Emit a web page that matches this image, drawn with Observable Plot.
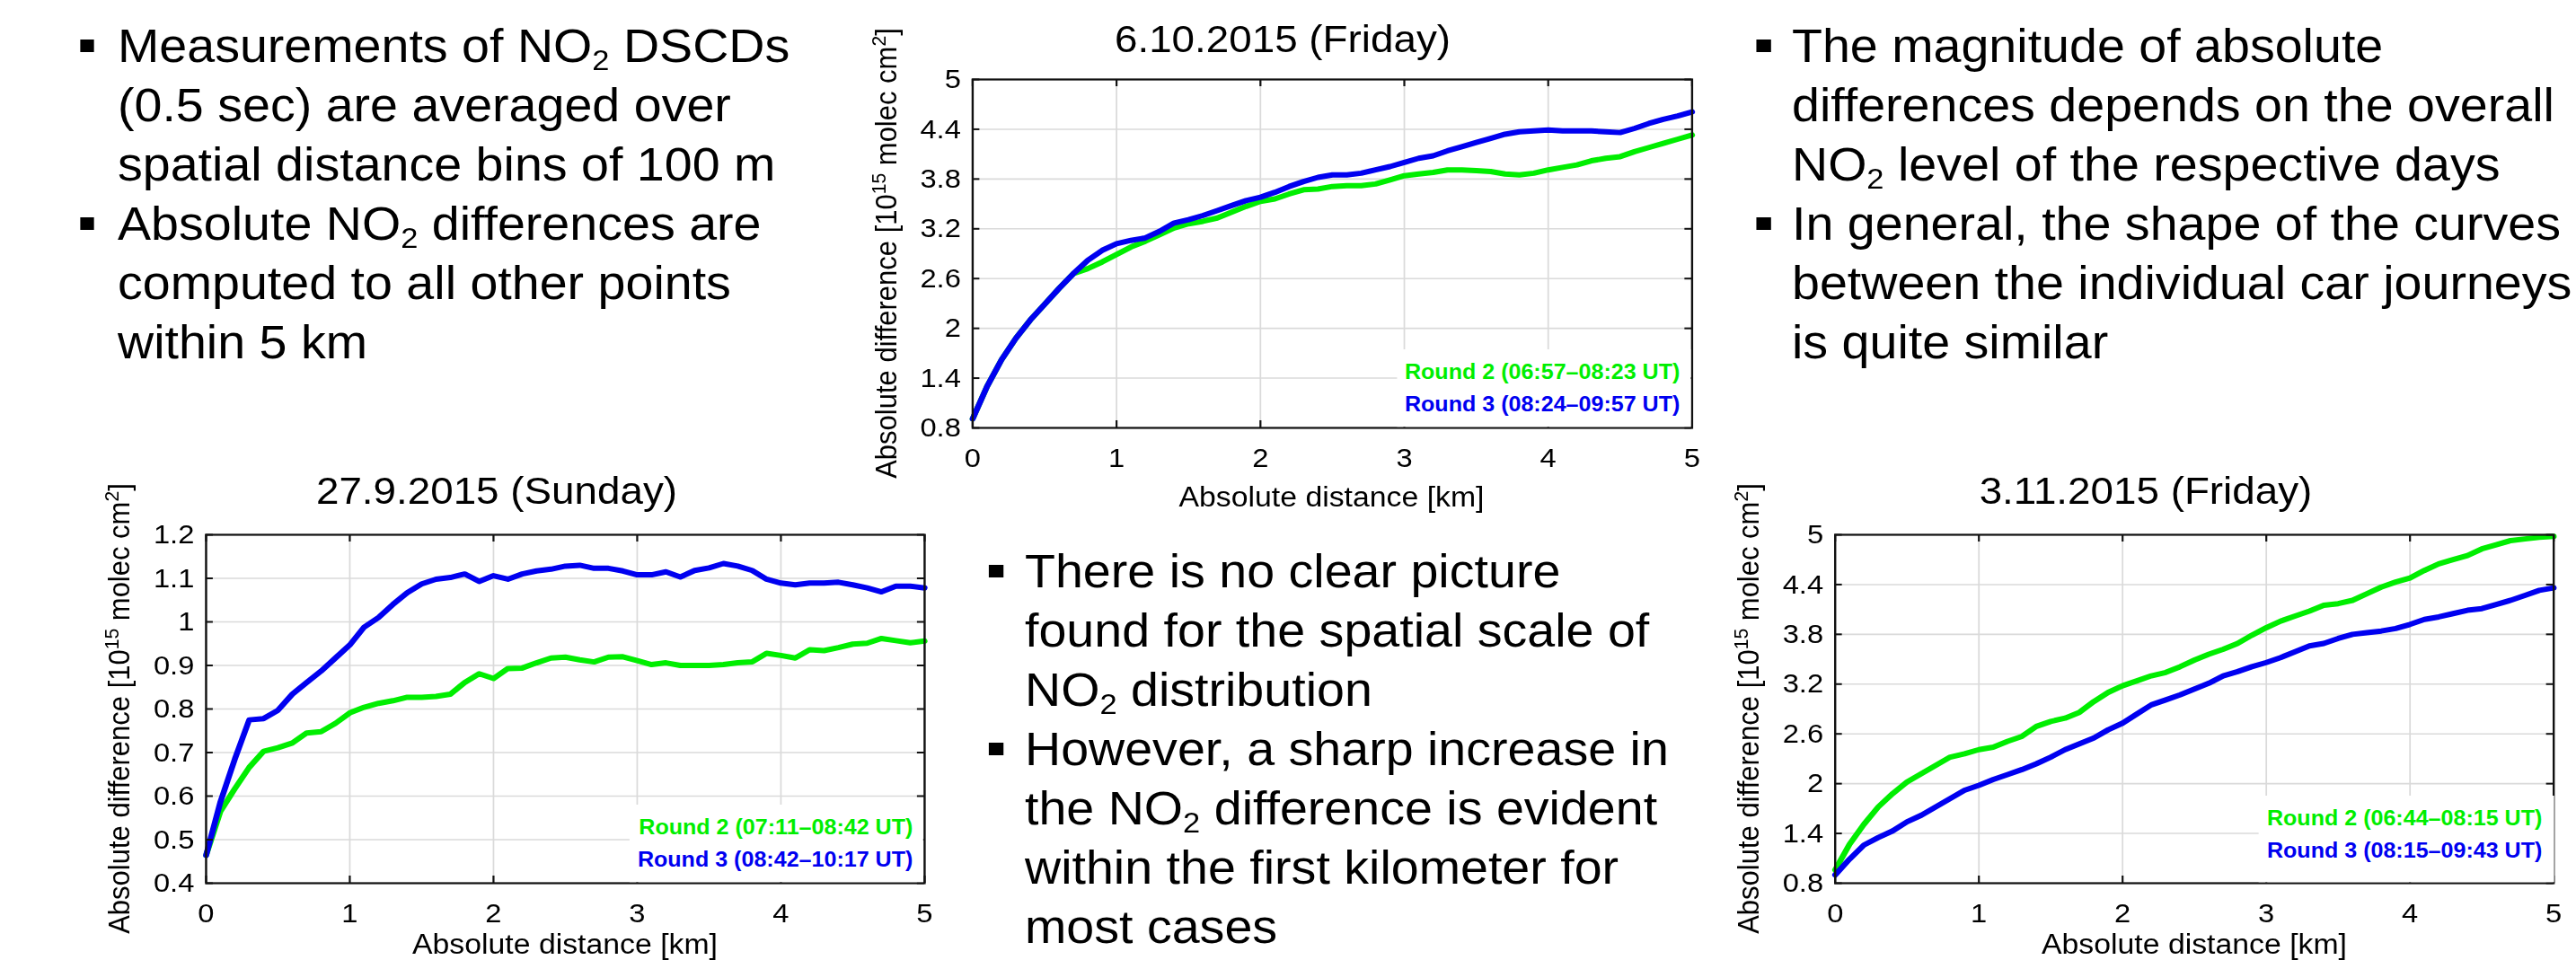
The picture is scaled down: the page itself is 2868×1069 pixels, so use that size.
<!DOCTYPE html>
<html><head><meta charset="utf-8">
<script src="https://cdn.jsdelivr.net/npm/d3@7"></script>
<script src="https://cdn.jsdelivr.net/npm/@observablehq/plot@0.6"></script>
<style>
html,body{margin:0;padding:0;background:#fff;overflow:hidden;width:2868px;height:1069px;}
#page{position:relative;width:2632px;height:1069px;transform:scaleX(1.09);transform-origin:0 0;font-family:"Liberation Sans",Arial,Helvetica,sans-serif;color:#000;}
.t{position:absolute;white-space:nowrap;}
sub{font-size:0.62em;line-height:0;vertical-align:baseline;position:relative;top:0.28em;}
sup{font-size:0.68em;line-height:0;vertical-align:baseline;position:relative;top:-0.52em;}
.bullet{position:absolute;background:#000;}
.legend{position:absolute;background:#fff;white-space:nowrap;text-align:right;font-weight:bold;}
</style></head><body><div id="page"></div><script>
// ---------------- data ----------------
const distanceKm = [0,0.1,0.2,0.3,0.4,0.5,0.6,0.7,0.8,0.9,1,1.1,1.2,1.3,1.4,1.5,1.6,1.7,1.8,1.9,2,2.1,2.2,2.3,2.4,2.5,2.6,2.7,2.8,2.9,3,3.1,3.2,3.3,3.4,3.5,3.6,3.7,3.8,3.9,4,4.1,4.2,4.3,4.4,4.5,4.6,4.7,4.8,4.9,5];

const oct6Round2 = [0.91,1.30,1.62,1.88,2.10,2.29,2.48,2.66,2.72,2.80,
  2.89,2.98,3.05,3.13,3.21,3.26,3.29,3.33,3.40,3.47,
  3.53,3.56,3.62,3.67,3.68,3.71,3.72,3.72,3.74,3.79,
  3.84,3.86,3.88,3.91,3.91,3.90,3.89,3.86,3.85,3.87,
  3.91,3.94,3.97,4.02,4.05,4.07,4.13,4.18,4.23,4.28,4.33];
const oct6Round3 = [0.91,1.30,1.62,1.88,2.10,2.29,2.48,2.66,2.82,2.94,
  3.02,3.06,3.09,3.17,3.27,3.31,3.36,3.42,3.48,3.54,
  3.58,3.64,3.71,3.77,3.82,3.85,3.85,3.87,3.91,3.95,
  4.00,4.05,4.08,4.14,4.19,4.24,4.29,4.34,4.37,4.38,
  4.39,4.38,4.38,4.38,4.37,4.36,4.41,4.47,4.52,4.56,4.61];

const sep27Round2 = [0.464,0.565,0.617,0.666,0.703,0.711,0.722,0.745,0.748,0.767,
  0.791,0.804,0.813,0.819,0.827,0.827,0.829,0.834,0.861,0.881,
  0.870,0.893,0.894,0.906,0.917,0.919,0.913,0.908,0.919,0.920,
  0.911,0.902,0.906,0.900,0.900,0.900,0.902,0.906,0.908,0.928,
  0.923,0.917,0.936,0.934,0.941,0.949,0.951,0.962,0.957,0.952,0.956];
const sep27Round3 = [0.464,0.587,0.685,0.775,0.778,0.797,0.834,0.861,0.887,0.917,
  0.947,0.988,1.010,1.040,1.067,1.087,1.098,1.102,1.110,1.093,
  1.106,1.098,1.110,1.117,1.121,1.128,1.130,1.123,1.123,1.117,
  1.108,1.108,1.115,1.103,1.118,1.124,1.134,1.128,1.118,1.098,
  1.089,1.085,1.089,1.089,1.091,1.085,1.078,1.069,1.082,1.082,1.078];

const nov3Round2 = [0.96,1.27,1.51,1.72,1.88,2.02,2.12,2.22,2.32,2.36,
  2.41,2.44,2.51,2.57,2.69,2.75,2.79,2.86,2.99,3.10,
  3.18,3.24,3.30,3.34,3.41,3.49,3.56,3.62,3.69,3.79,
  3.88,3.96,4.02,4.08,4.15,4.17,4.21,4.29,4.37,4.43,
  4.48,4.57,4.65,4.70,4.75,4.83,4.88,4.93,4.95,4.97,4.98];
const nov3Round3 = [0.90,1.09,1.26,1.35,1.43,1.54,1.62,1.72,1.82,1.92,
  1.98,2.05,2.11,2.17,2.24,2.32,2.41,2.48,2.55,2.65,
  2.73,2.84,2.95,3.01,3.07,3.14,3.21,3.30,3.35,3.41,
  3.46,3.52,3.59,3.66,3.69,3.75,3.80,3.82,3.84,3.87,
  3.92,3.98,4.01,4.05,4.09,4.11,4.16,4.21,4.27,4.33,4.36];

const xTicks = [0,1,2,3,4,5];
const yTicksHigh = [0.8,1.4,2,2.6,3.2,3.8,4.4,5];
const yTicksLow = [0.4,0.5,0.6,0.7,0.8,0.9,1,1.1,1.2];

const chartTitles = ["6.10.2015 (Friday)","27.9.2015 (Sunday)","3.11.2015 (Friday)"];
const legendOct6 = ["Round 2 (06:57–08:23 UT)","Round 3 (08:24–09:57 UT)"];
const legendSep27 = ["Round 2 (07:11–08:42 UT)","Round 3 (08:42–10:17 UT)"];
const legendNov3 = ["Round 2 (06:44–08:15 UT)","Round 3 (08:15–09:43 UT)"];
const yAxisLabel = "Absolute difference [10<sup>15</sup> molec cm<sup>2</sup>]";
const xAxisLabel = "Absolute distance [km]";

const textLeft = [
  ["Measurements of NO<sub>2</sub> DSCDs","(0.5 sec) are averaged over","spatial distance bins of 100 m"],
  ["Absolute NO<sub>2</sub> differences are","computed to all other points","within 5 km"]
];
const textRight = [
  ["The magnitude of absolute","differences depends on the overall","NO<sub>2</sub> level of the respective days"],
  ["In general, the shape of the curves","between the individual car journeys","is quite similar"]
];
const textMiddle = [
  ["There is no clear picture","found for the spatial scale of","NO<sub>2</sub> distribution"],
  ["However, a sharp increase in","the NO<sub>2</sub> difference is evident","within the first kilometer for","most cases"]
];

// ---------------- layout ----------------
const SX = 1.09;
const PAGE_W = 2868 / SX;
const FONT = '"Liberation Sans", Arial, Helvetica, sans-serif';
const GREEN = "#00ee00", BLUE = "#0000f0";
const page = document.getElementById("page");

function addText(html, {x, base, size, weight = "normal", color = "#000", anchor = "start", lh}) {
  lh = lh ?? size;
  const d = document.createElement("div");
  d.className = "t";
  d.innerHTML = html;
  d.style.fontSize = size + "px";
  d.style.lineHeight = lh + "px";
  d.style.fontWeight = weight;
  d.style.color = color;
  d.style.top = (base - ((lh - 1.117 * size) / 2 + 0.905 * size)) + "px";
  const xl = x / SX;
  if (anchor === "start") d.style.left = xl + "px";
  else if (anchor === "middle") { d.style.left = xl + "px"; d.style.transform = "translateX(-50%)"; }
  else d.style.right = (PAGE_W - xl) + "px";
  page.appendChild(d);
  return d;
}

function addBlock(items, {x, bulletX, firstBase}) {
  let i = 0;
  items.forEach(lines => {
    lines.forEach((ln, j) => {
      const base = firstBase + 66 * i;
      if (j === 0) {
        const b = document.createElement("div");
        b.className = "bullet";
        const bw = 16, bh = 14;
        b.style.width = (bw / SX) + "px";
        b.style.height = bh + "px";
        b.style.left = ((bulletX - bw / 2) / SX) + "px";
        b.style.top = (base - 19 - bh / 2) + "px";
        page.appendChild(b);
      }
      addText(ln, {x, base, size: 51, lh: 66});
      i++;
    });
  });
}

addBlock(textLeft, {x: 131, bulletX: 97, firstBase: 70});
addBlock(textRight, {x: 1995, bulletX: 1964, firstBase: 70});
addBlock(textMiddle, {x: 1141, bulletX: 1109, firstBase: 655});

const charts = [
  {title: chartTitles[0], r2: oct6Round2, r3: oct6Round3, legend: legendOct6, yDomain: [0.8, 5], yTicks: yTicksHigh,
   frame: {l: 1082, r: 1883, t: 88, b: 476}, titleX: 1428, titleBase: 59, legendLift: 0, xLabelBase: 564},
  {title: chartTitles[1], r2: sep27Round2, r3: sep27Round3, legend: legendSep27, yDomain: [0.4, 1.2], yTicks: yTicksLow,
   frame: {l: 229, r: 1029, t: 595, b: 983}, titleX: 553, titleBase: 562, legendLift: 0, xLabelBase: 1062},
  {title: chartTitles[2], r2: nov3Round2, r3: nov3Round3, legend: legendNov3, yDomain: [0.8, 5], yTicks: yTicksHigh,
   frame: {l: 2043, r: 2843, t: 595, b: 983}, titleX: 2389, titleBase: 562, legendLift: 10, xLabelBase: 1062}
];

function drawChart(c) {
  const ML = 110, MR = 16, MT = 20, MB = 100;
  const fw = (c.frame.r - c.frame.l) / SX, fh = c.frame.b - c.frame.t;
  const tx = 8 / SX, ty = 8;
  const rows2 = distanceKm.map((d, i) => ({d, v: c.r2[i]}));
  const rows3 = distanceKm.map((d, i) => ({d, v: c.r3[i]}));
  const fmt = d => String(Math.round(d * 10) / 10);
  const ink = "#111";
  const svg = Plot.plot({
    width: ML + fw + MR, height: MT + fh + MB,
    marginLeft: ML, marginRight: MR, marginTop: MT, marginBottom: MB,
    x: {domain: [0, 5]},
    y: {domain: c.yDomain},
    style: {fontFamily: FONT, fontSize: "30px", color: "#000", background: "transparent", overflow: "visible"},
    marks: [
      Plot.gridX(xTicks, {stroke: "#dadada", strokeOpacity: 1, strokeWidth: 1.6}),
      Plot.gridY(c.yTicks, {stroke: "#dadada", strokeOpacity: 1, strokeWidth: 1.6}),
      Plot.line(rows2, {x: "d", y: "v", stroke: GREEN, strokeWidth: 6, strokeLinejoin: "round", strokeLinecap: "round"}),
      Plot.line(rows3, {x: "d", y: "v", stroke: BLUE, strokeWidth: 6, strokeLinejoin: "round", strokeLinecap: "round"}),
      Plot.tickX(xTicks, {x: d => d, insetTop: fh - ty, stroke: ink, strokeWidth: 2}),
      Plot.tickX(xTicks, {x: d => d, insetBottom: fh - ty, stroke: ink, strokeWidth: 2}),
      Plot.tickY(c.yTicks, {y: d => d, insetRight: fw - tx, stroke: ink, strokeWidth: 2}),
      Plot.tickY(c.yTicks, {y: d => d, insetLeft: fw - tx, stroke: ink, strokeWidth: 2}),
      Plot.frame({stroke: ink, strokeWidth: 2.2}),
      Plot.axisX(xTicks, {tickSize: 0, tickPadding: 22, label: null, tickFormat: fmt}),
      Plot.axisY(c.yTicks, {tickSize: 0, tickPadding: 12, label: null, tickFormat: fmt})
    ]
  });
  svg.style.position = "absolute";
  svg.style.left = (c.frame.l / SX - ML) + "px";
  svg.style.top = (c.frame.t - MT) + "px";
  page.appendChild(svg);

  // title
  addText(c.title, {x: c.titleX, base: c.titleBase, size: 42, anchor: "middle"});
  // x label
  addText(xAxisLabel, {x: (c.frame.l + c.frame.r) / 2, base: c.xLabelBase, size: 31, anchor: "middle"});
  // y label (rotated)
  const yl = document.createElement("div");
  yl.className = "t";
  yl.innerHTML = yAxisLabel;
  yl.style.fontSize = "31px";
  yl.style.lineHeight = "31px";
  const baseX = (c.frame.l - 84) / SX;
  const cx = baseX - 10.8;
  const cy = (c.frame.t + c.frame.b) / 2;
  yl.style.left = cx + "px";
  yl.style.top = cy + "px";
  yl.style.transform = "translate(-50%,-50%) rotate(-90deg)";
  page.appendChild(yl);
  // legend
  const lg = document.createElement("div");
  lg.className = "legend";
  lg.style.fontSize = "23px";
  lg.style.lineHeight = "36px";
  lg.style.padding = `7px ${12 / SX}px ${7 + c.legendLift}px ${9 / SX}px`;
  lg.style.right = (PAGE_W - (c.frame.r - 1.5) / SX) + "px";
  lg.style.bottom = (1069 - (c.frame.b - 1.5)) + "px";
  lg.innerHTML = `<div style="color:${GREEN}">${c.legend[0]}</div><div style="color:${BLUE}">${c.legend[1]}</div>`;
  page.appendChild(lg);
}
charts.forEach(drawChart);
</script></body></html>
